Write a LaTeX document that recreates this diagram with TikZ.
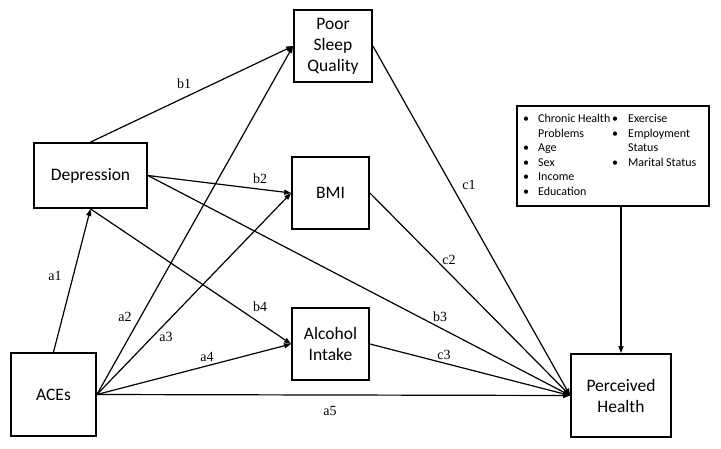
\documentclass[tikz,border=0pt]{standalone}
\usepackage{fontspec}
\setmainfont{Carlito}
\newfontfamily\lblfont{Liberation Serif}
\usetikzlibrary{arrows.meta}
\tikzset{
  box/.style={draw=black, line width=1.8pt, fill=white, inner sep=0pt, align=center,
    font=\fontsize{17.5}{21}\selectfont},
  path/.style={line width=1.2pt, -{Triangle[length=7pt,width=5pt]}},
  lbl/.style={font=\lblfont\fontsize{14}{16}\selectfont, inner sep=0pt},
  covtxt/.style={font=\fontsize{12}{14.6}\selectfont, inner sep=0pt, anchor=north west, align=left}
}
\begin{document}
\begin{tikzpicture}[x=1pt,y=-1pt]
\useasboundingbox (0,0) rectangle (721,448);
\node[box, minimum width=85pt, minimum height=83pt] (aces) at (53.5,394.5) {ACEs};
\node[box, minimum width=113pt, minimum height=65pt] (dep) at (90.5,175.5) {Depression};
\node[box, minimum width=78pt, minimum height=72pt] (psq) at (333,46) {Poor\\Sleep\\Quality};
\node[box, minimum width=77pt, minimum height=72pt] (bmi) at (330.5,193) {BMI};
\node[box, minimum width=77pt, minimum height=72pt] (alc) at (330.5,344) {Alcohol\\Intake};
\node[box, minimum width=100pt, minimum height=83pt] (ph) at (621,395.5) {Perceived\\Health};
\node[draw=black, line width=1.8pt, minimum width=192pt, minimum height=100pt, inner sep=0pt] (cov) at (613,156) {};
\node[covtxt] (covl) at (523,112) {\begin{tabular}{@{}p{15pt}@{}l@{}}\textbullet&Chronic Health\\ &Problems\\ \textbullet&Age\\ \textbullet&Sex\\ \textbullet&Income\\ \textbullet&Education\end{tabular}};
\node[covtxt] (covr) at (612,112) {\begin{tabular}{@{}p{16pt}@{}l@{}}\textbullet&Exercise\\ \textbullet&Employment\\ &Status\\ \textbullet&Marital Status\end{tabular}};

\draw[path] (aces.north) -- (dep.south);
\draw[path] (aces.east) -- (psq.west);
\draw[path] (aces.east) -- (bmi.west);
\draw[path] (aces.east) -- (alc.west);
\draw[path] (aces.east) -- (ph.west);
\draw[path] (dep.north) -- (psq.west);
\draw[path] (dep.east) -- (bmi.west);
\draw[path] (dep.east) -- (ph.west);
\draw[path] (dep.south) -- (alc.west);
\draw[path] (psq.east) -- (ph.west);
\draw[path] (bmi.east) -- (ph.west);
\draw[path] (alc.east) -- (ph.west);
\draw[path] (ph.north |- cov.south) -- (ph.north);

\node[lbl] (la1) at (55,276) {a1};
\node[lbl] (la2) at (125,317) {a2};
\node[lbl] (la3) at (166,337) {a3};
\node[lbl] (la4) at (207,357) {a4};
\node[lbl] (la5) at (330,411) {a5};
\node[lbl] (lb1) at (184,84) {b1};
\node[lbl] (lb2) at (260,179) {b2};
\node[lbl] (lb3) at (440,317) {b3};
\node[lbl] (lb4) at (260,307) {b4};
\node[lbl] (lc1) at (469,185) {c1};
\node[lbl] (lc2) at (449,260) {c2};
\node[lbl] (lc3) at (444,355) {c3};
\end{tikzpicture}
\end{document}
